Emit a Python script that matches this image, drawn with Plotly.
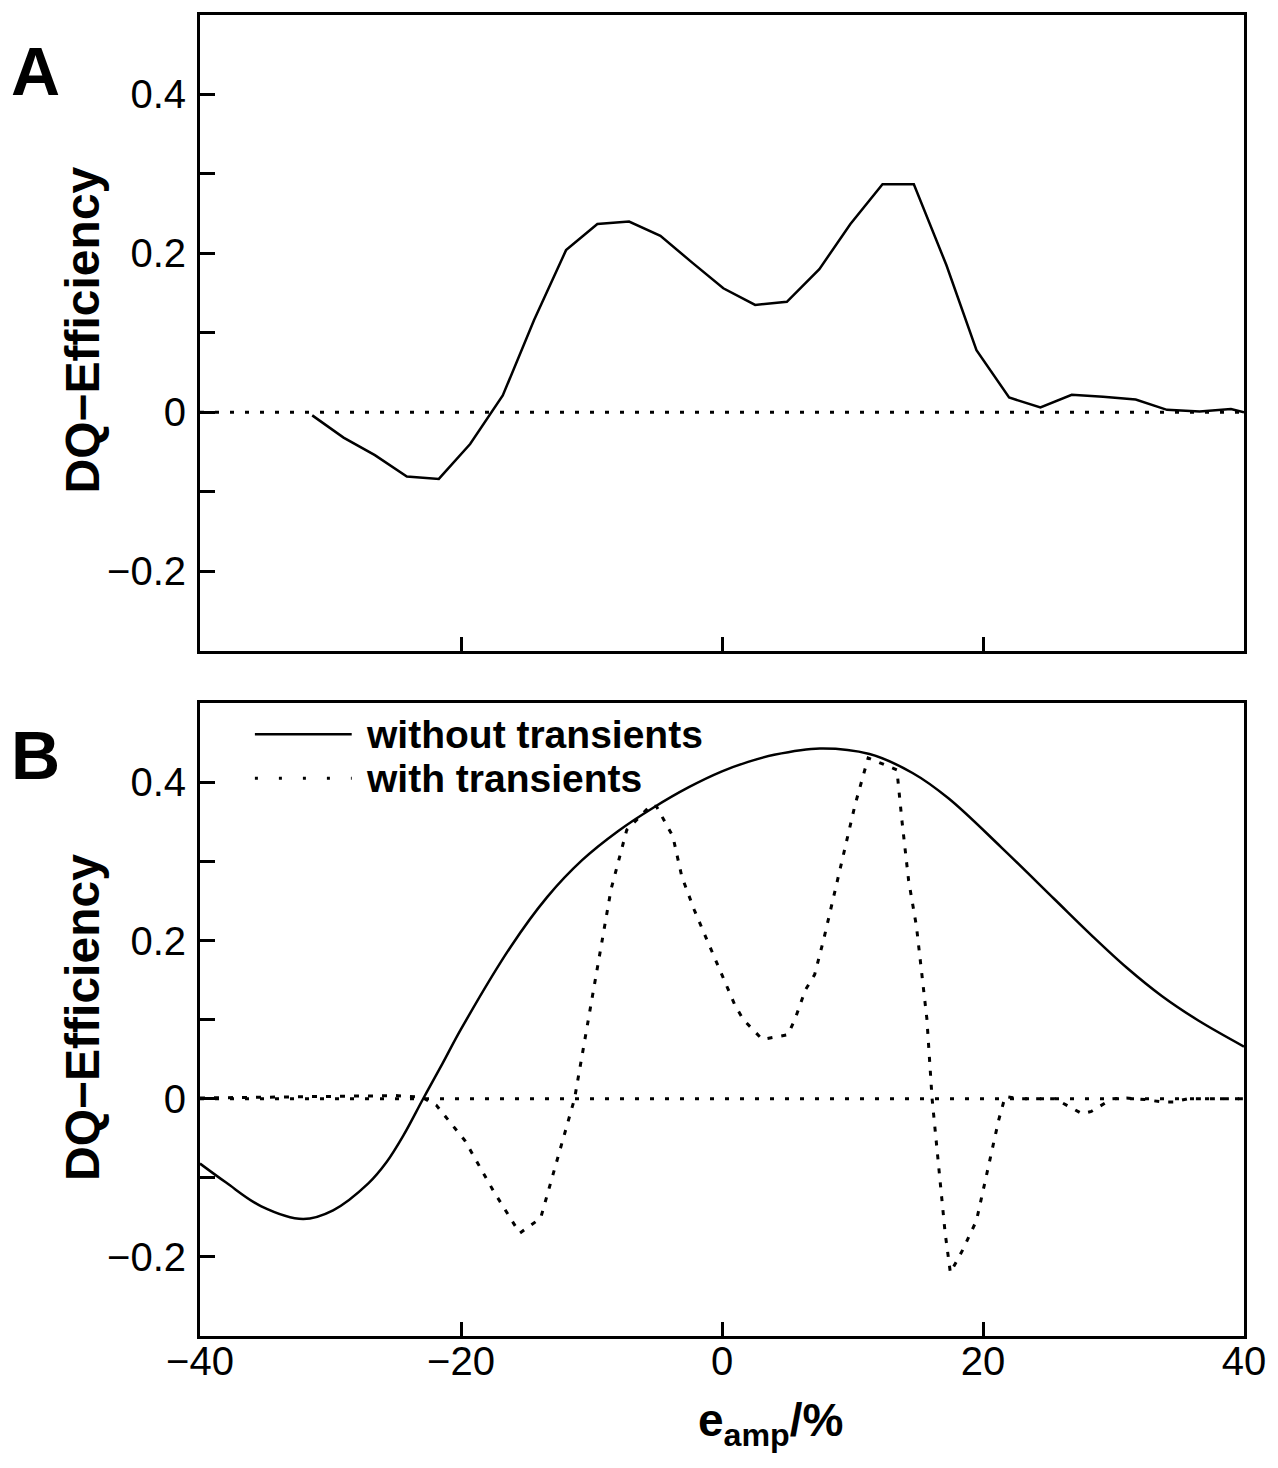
import plotly.graph_objects as go

# ---------------- data ----------------
# Panel A
xa = [-31.4, -29.0, -26.6, -24.15, -21.7, -19.3, -16.8, -14.4, -11.95, -9.55, -7.12, -4.72,
      -2.26, 0.1, 2.54, 4.97, 7.46, 9.84, 12.3, 14.7, 17.2, 19.5, 22.0, 24.4, 26.8, 29.2,
      31.7, 34.1, 36.6, 39.0, 40.0]
ya = [-0.004, -0.032, -0.054, -0.081, -0.084, -0.040, 0.021, 0.116, 0.204, 0.237, 0.240, 0.222,
      0.188, 0.156, 0.135, 0.139, 0.180, 0.237, 0.287, 0.287, 0.185, 0.078, 0.0185, 0.006, 0.022,
      0.0196, 0.016, 0.003, 0.001, 0.004, 0.0]

# Panel B, without transients
xb = [-40, -38, -35.3, -32.1, -29.8, -27.1, -25.7, -24.4, -22.9, -21.4, -20, -16.2, -13.4,
      -10.7, -8, -5.27, -2.54, 0, 2, 4, 7.5, 11.3, 14.6, 17.35, 21.4, 25.5, 28.3, 31, 33.7,
      36.5, 40]
yb = [-0.082, -0.106, -0.136, -0.152, -0.141, -0.107, -0.080, -0.046, 0, 0.045, 0.088, 0.192,
      0.255, 0.302, 0.338, 0.368, 0.394, 0.414, 0.426, 0.435, 0.443, 0.436, 0.412, 0.380, 0.318,
      0.252, 0.207, 0.166, 0.130, 0.099, 0.066]

# Panel B, with transients
xc = [-40, -36, -32, -28, -25, -23, -21.9, -19.7, -17.5, -15.5, -13.9, -11.3, -9.9, -8.5, -7.3,
      -5.4, -5.0, -3.77, -3.08, -2.13, -1.31, -0.49, 0.33, 1.0, 1.64, 2.3, 3.09, 5.05, 5.6, 6.4,
      7.1, 7.8, 8.6, 9.4, 10.2, 11.2, 13.4, 13.8, 14.3, 14.9, 15.7, 16.1, 16.5, 17.1, 17.5,
      18.45, 19.5, 20.4, 21.2, 21.7, 22.8, 25.5, 26.4, 27.6, 28.3, 29.9, 31.0, 32.4, 33.7,
      34.6, 35.7, 40]
yc = [0.001, 0.002, 0.003, 0.004, 0.004, 0.002, -0.008, -0.053, -0.117, -0.170, -0.151, 0.0,
      0.133, 0.265, 0.340, 0.372, 0.369, 0.332, 0.281, 0.239, 0.207, 0.175, 0.143, 0.118, 0.100,
      0.088, 0.075, 0.081, 0.101, 0.138, 0.157, 0.202, 0.260, 0.316, 0.372, 0.431, 0.416,
      0.350, 0.276, 0.218, 0.101, 0.0, -0.069, -0.170, -0.220, -0.191, -0.154, -0.085, -0.027,
      0.003, 0.0, 0.0, -0.008, -0.019, -0.016, 0.0, 0.001, -0.001, -0.004, -0.004, 0.0, 0.0]

x_zero = [-40, 40]
y_zero = [0, 0]

y_tickvals = [-0.2, 0, 0.2, 0.4]
y_ticktext = ["\u22120.2", "0", "0.2", "0.4"]
y_minor_tickvals = [-0.1, 0.1, 0.3]
x_tickvals = [-40, -20, 0, 20, 40]
x_ticktext = ["\u221240", "\u221220", "0", "20", "40"]

legend_labels = ["without transients", "with transients"]

# ---------------- figure ----------------
FONT = "Liberation Sans, Arial, Helvetica, sans-serif"
LW = 2.5
fig = go.Figure()

fig.add_trace(go.Scatter(x=x_zero, y=y_zero, mode="lines", xaxis="x", yaxis="y",
                         line=dict(color="black", width=3, dash="4px,11px"), showlegend=False))
fig.add_trace(go.Scatter(x=xa, y=ya, mode="lines", xaxis="x", yaxis="y",
                         line=dict(color="black", width=LW), showlegend=False))

fig.add_trace(go.Scatter(x=x_zero, y=y_zero, mode="lines", xaxis="x2", yaxis="y2",
                         line=dict(color="black", width=3, dash="4px,11px"), showlegend=False))
fig.add_trace(go.Scatter(x=xb, y=yb, mode="lines", xaxis="x2", yaxis="y2",
                         line=dict(color="black", width=LW, shape="spline", smoothing=1.0),
                         name=legend_labels[0], showlegend=False))
fig.add_trace(go.Scatter(x=xc, y=yc, mode="lines", xaxis="x2", yaxis="y2",
                         line=dict(color="black", width=3, dash="5px,9px"),
                         name=legend_labels[1], showlegend=False))

axis_common = dict(showline=True, linecolor="black", linewidth=3, mirror=True,
                   ticks="inside", tickcolor="black", tickwidth=2.5, showgrid=False,
                   zeroline=False, tickfont=dict(family=FONT, size=40, color="black"))
minor_y = dict(tickvals=y_minor_tickvals, ticks="inside", ticklen=15, tickwidth=2.5,
               tickcolor="black", showgrid=False)

fig.update_layout(
    width=1278, height=1468,
    margin=dict(l=200, r=32, t=12, b=132),
    paper_bgcolor="white", plot_bgcolor="white",
    font=dict(family=FONT, color="black"),
    xaxis=dict(domain=[0, 1], range=[-40, 40], anchor="y", tickvals=x_tickvals,
               showticklabels=False, ticklen=14, **axis_common),
    yaxis=dict(domain=[0.5189, 1], range=[-0.3, 0.5], anchor="x", tickvals=y_tickvals,
               ticktext=y_ticktext, ticklen=15, ticklabelstandoff=3, minor=minor_y,
               **axis_common),
    xaxis2=dict(domain=[0, 1], range=[-40, 40], anchor="y2", tickvals=x_tickvals,
                ticktext=x_ticktext, ticklen=14, ticklabelstandoff=-12, **axis_common),
    yaxis2=dict(domain=[0, 0.4789], range=[-0.3, 0.5], anchor="x2", tickvals=y_tickvals,
                ticktext=y_ticktext, ticklen=15, ticklabelstandoff=3, minor=minor_y,
                **axis_common),
)

def px_x(p):
    return (p - 200) / 1046.0

def px_y(p):
    return (1336 - p) / 1324.0

annos = [
    dict(text="<b>A</b>", x=px_x(35), y=px_y(68), size=68, xanchor="center"),
    dict(text="<b>B</b>", x=px_x(35), y=px_y(754), size=68, xanchor="center"),
    dict(text="<b>DQ\u2212Efficiency</b>", x=px_x(82), y=px_y(328), size=48, textangle=-90,
         xanchor="center"),
    dict(text="<b>DQ\u2212Efficiency</b>", x=px_x(82), y=px_y(1017), size=48, textangle=-90,
         xanchor="center"),
    dict(text="<b>e<sub>amp</sub>/%</b>", x=px_x(772), y=px_y(1424), size=46, xanchor="center"),
    dict(text="<b>" + legend_labels[0] + "</b>", x=px_x(364), y=px_y(733), size=39,
         xanchor="left"),
    dict(text="<b>" + legend_labels[1] + "</b>", x=px_x(364), y=px_y(777), size=39,
         xanchor="left"),
]
for a in annos:
    extra = {}
    if "textangle" in a:
        extra["textangle"] = a["textangle"]
    fig.add_annotation(xref="paper", yref="paper", showarrow=False, yanchor="middle",
                       xanchor=a["xanchor"], x=a["x"], y=a["y"], text=a["text"],
                       font=dict(family=FONT, color="black", size=a["size"]), **extra)

fig.add_shape(type="line", xref="paper", yref="paper", x0=px_x(255), x1=px_x(352),
              y0=px_y(733), y1=px_y(733), line=dict(color="black", width=LW))
fig.add_shape(type="line", xref="paper", yref="paper", x0=px_x(255), x1=px_x(352),
              y0=px_y(777), y1=px_y(777), line=dict(color="black", width=3, dash="3px,21px"))

fig.write_html("out.html")
